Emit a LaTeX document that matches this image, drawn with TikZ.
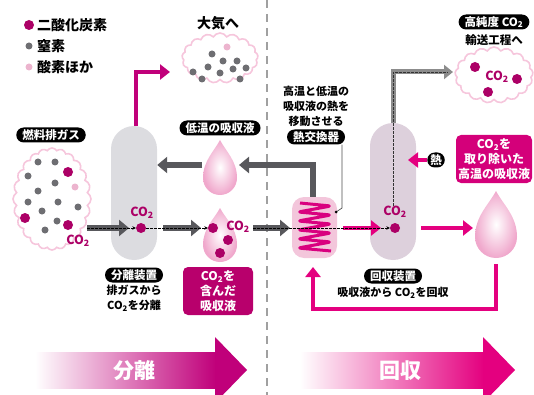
\documentclass[tikz,border=0pt]{standalone}
\usepackage{fontspec}
\setmainfont{Noto Sans CJK JP}
\usetikzlibrary{arrows.meta,shapes.symbols}

\definecolor{magdot}{HTML}{AC0066}
\definecolor{sepmag}{HTML}{C0007A}
\definecolor{pinkarr}{HTML}{E4007F}
\definecolor{boxrich}{HTML}{B8006C}
\definecolor{boxlean}{HTML}{D4007A}
\definecolor{ngray}{HTML}{6E6E72}
\definecolor{opink}{HTML}{ECB4CE}
\definecolor{cloudc}{HTML}{F6C6DC}
\definecolor{colgray}{HTML}{DCDCE0}
\definecolor{colmauve}{HTML}{DDD0DC}
\definecolor{darrow}{HTML}{58585C}
\definecolor{larrow}{HTML}{8C8C8C}
\definecolor{hxfill}{HTML}{F3C6DB}
\definecolor{coil}{HTML}{D9007F}
\definecolor{dropc}{HTML}{F0A8CC}
\definecolor{divc}{HTML}{A0A0A0}

\newcommand\dropr{17}
\newcommand\droptip{38}

\begin{document}
\begin{tikzpicture}[x=1pt,y=-1pt,
  pill/.style={fill=black, text=white, rounded corners=7.5pt, inner xsep=6pt, inner ysep=1pt,
    minimum height=15pt, font=\bfseries\fontsize{11.5}{12}\selectfont},
  magbox/.style={text=white, rounded corners=5pt, align=center, inner sep=2pt,
    font=\bfseries\fontsize{12}{14.8}\selectfont},
  legend/.style={anchor=west, inner sep=0, font=\bfseries\fontsize{14}{16}\selectfont},
  heading/.style={inner sep=0, font=\bfseries\fontsize{14}{16}\selectfont},
  note/.style={inner sep=0, align=center, font=\bfseries\fontsize{11}{15}\selectfont},
  co2t/.style={inner sep=0, text=magdot, font=\bfseries\fontsize{12.5}{14}\selectfont},
  bigw/.style={inner sep=0, text=white, font=\bfseries\fontsize{21}{24}\selectfont},
  dotC/.style={circle, fill=magdot, inner sep=0, minimum size=10pt},
  dotN/.style={circle, fill=ngray, inner sep=0, minimum size=7pt},
  dotO/.style={circle, fill=opink, inner sep=0, minimum size=7pt},
  puff/.style={cloud, cloud puffs=17, cloud puff arc=120, cloud ignores aspect,
    draw=cloudc, line width=1.6pt, fill=white, inner sep=0},
  tower/.style={inner sep=0, minimum width=46pt, rounded corners=23pt},
  garrow/.style={draw=darrow, line width=6pt, -{Triangle[length=10pt,width=16pt]}},
  lgarrow/.style={draw=larrow, line width=5pt, -{Triangle[length=9pt,width=14pt]}},
  parrow/.style={draw=pinkarr, line width=4.5pt, -{Triangle[length=10pt,width=15pt]}},
  sarrow/.style={draw=sepmag, line width=4.5pt, -{Triangle[length=10pt,width=15pt]}},
  dsh/.style={draw=black, line width=0.7pt, dash pattern=on 2.5pt off 1.5pt,
    -{Stealth[length=3.5pt,width=3.5pt]}},
  dshplain/.style={draw=black!80, line width=0.7pt, dash pattern=on 2.5pt off 1.5pt},
  leader/.style={draw=black!70, line width=0.7pt},
  divider/.style={draw=divc, line width=2.2pt, dash pattern=on 8pt off 6pt},
  drop/.pic={\shade[inner color=white, outer color=dropc]
      (0,-\droptip) .. controls (0.35*\dropr,-0.7*\droptip) and (\dropr,-0.45*\droptip) .. (\dropr,0)
      arc[start angle=0, end angle=180, radius=\dropr]
      .. controls (-\dropr,-0.45*\droptip) and (-0.35*\dropr,-0.7*\droptip) .. (0,-\droptip) -- cycle;}
]
\clip (0,0) rectangle (534,395);
\useasboundingbox (0,0) rectangle (534,395);

% --- dividing line between the two stages
\coordinate (divtop) at (267,0);
\coordinate (divbot) at (267,395);
\draw[divider] (divtop) -- (divbot);

% --- legend
\node[dotC, minimum size=10pt] (lgC) at (29,25) {};
\node[legend] (lgCt) at (37,25) {二酸化炭素};
\node[dotN] (lgN) at (29,46) {};
\node[legend] (lgNt) at (37,46) {窒素};
\node[dotO] (lgO) at (29,67) {};
\node[legend] (lgOt) at (37,67) {酸素ほか};

% --- flue gas cloud
\node[pill] (lbl-fuel) at (51,135) {燃料排ガス};
\node[puff, cloud puffs=24, minimum width=78pt, minimum height=102pt] (fuel) at (52,199) {};
\foreach \x/\y in {38/162,55/162,28/176,55/183,38/191,28/202,58/202,78/207,42/211,57/221,45/230}
  \node[dotN] at (\x,\y) {};
\node[dotO] at (75,187) {};
\foreach \x/\y in {68/172,25/218,68/225}
  \node[dotC] at (\x,\y) {};
\node[co2t] (c-fuel) at (78,241) {CO\textsubscript{2}};

% --- separation tower
\node[tower, fill=colgray, minimum height=134pt] (sep) at (134,193) {};
\node[co2t] (c-sep) at (142,213) {CO\textsubscript{2}};
\node[dotC] (d-sep) at (141,228) {};
\node[pill] (lbl-sep) at (134,275) {分離装置};
\node[note] (t-sep) at (134,298.5) {排ガスから\\CO\textsubscript{2}を分離};

% --- gas released to the air
\node[heading] (t-air) at (218,23) {大気へ};
\node[puff, minimum width=76pt, minimum height=50pt] (air) at (220,58) {};
\foreach \x/\y in {212/54,223/61,237/61,208/67,233/69,246/68,193/72,220/73,202/79,240/79}
  \node[dotN] at (\x,\y) {};
\node[dotO] at (227,47) {};
\coordinate (sepbend) at (136,72);
\coordinate (airin) at (170,72);
\draw[sarrow] (sep.north -| sepbend) -- (sepbend) -- (airin);

% --- cold absorbent
\node[pill] (lbl-low) at (220,128) {低温の吸収液};
\renewcommand\dropr{17}\renewcommand\droptip{38}
\pic at (220,178) {drop};
\coordinate (lowR) at (239,165);
\coordinate (lowL) at (202,165);

% --- CO2-rich absorbent
\renewcommand\dropr{17}\renewcommand\droptip{37}
\pic at (220,245) {drop};
\node[dotC] (d-rich) at (213,228) {};
\node[dotC] at (228,240) {};
\node[dotC] at (220,253) {};
\node[co2t] (c-rich) at (238,227) {CO\textsubscript{2}};
\node[magbox, fill=boxrich, minimum width=70pt, minimum height=48pt] (box-rich) at (218,291) {CO\textsubscript{2}を\\含んだ\\吸収液};

% --- heat exchanger
\node[note] (t-hx) at (316,106) {高温と低温の\\吸収液の熱を\\移動させる};
\node[pill] (lbl-hx) at (316,137) {熱交換器};
\node[inner sep=0, minimum width=45pt, minimum height=61pt, rounded corners=12pt, fill=hxfill] (hx) at (314.5,227.5) {};
\draw[coil, line width=3pt, line join=round, rounded corners=3pt]
  (300,203) -- (331,206) -- (298,212) -- (331,215) -- (298,221) -- (331,224)
  -- (298,230) -- (331,233) -- (298,239) -- (331,242) -- (298,248) -- (331,251);
\coordinate (hxpin) at (336,212);
\coordinate (hxbend) at (342,208);
\draw[leader] (lbl-hx.south -| hxbend) -- (hxbend) -- (hxpin);
\fill[black] (hxpin) circle[radius=1.5];

% --- recovery tower
\node[tower, fill=colmauve, minimum height=137pt] (rec) at (393,191.5) {};
\node[co2t] (c-rec) at (395,212) {CO\textsubscript{2}};
\node[dotC] (d-rec) at (395,228) {};
\node[pill] (lbl-rec) at (393,276) {回収装置};
\node[note] (t-rec) at (393,293) {吸収液から CO\textsubscript{2}を回収};
\node[pill, inner xsep=3pt] (lbl-heat) at (436,160) {熱};
\coordinate (heatin) at (408,160);
\draw[parrow] (lbl-heat.west) -- (heatin);

% --- high-purity CO2
\node[pill] (lbl-pure) at (494,22) {高純度 CO\textsubscript{2}};
\node[note, font=\bfseries\fontsize{11.5}{14}\selectfont] (t-trans) at (494,40) {輸送工程へ};
\node[puff, minimum width=78pt, minimum height=56pt] (pure) at (494,75) {};
\foreach \x/\y in {475/67,517/79,488/92}
  \node[dotC] at (\x,\y) {};
\node[co2t] (c-pure) at (497,77) {CO\textsubscript{2}};
\coordinate (upbend) at (393,72);
\coordinate (purein) at (453,72);
\draw[lgarrow] (rec.north -| upbend) -- (upbend) -- (purein);
\draw[dshplain] (c-rec.north -| upbend) -- (upbend) -- (448,72);

% --- hot, lean absorbent
\node[magbox, fill=boxlean, minimum width=76pt, minimum height=48pt] (box-lean) at (494,159) {CO\textsubscript{2}を\\取り除いた\\高温の吸収液};
\renewcommand\dropr{21}\renewcommand\droptip{46}
\pic at (496,237) {drop};
\coordinate (leanin) at (473,228);
\coordinate (leanout) at (496,264);
\coordinate (retR) at (496,309);
\coordinate (retL) at (313,309);
\coordinate (hxin) at (313,267);

% --- main gas/liquid flow row
\coordinate (r0) at (87,228);
\coordinate (r1) at (129,228);
\coordinate (r2) at (163,228);
\coordinate (r3) at (201,228);
\coordinate (r4) at (253,228);
\coordinate (r5) at (290,228);
\coordinate (r6) at (343,228);
\coordinate (r7) at (381,228);
\coordinate (r8) at (421,228);
\draw[garrow] (r0) -- (r1);
\draw[garrow] (r2) -- (r3);
\draw[garrow] (r4) -- (r5);
\draw[parrow] (r6) -- (r7);
\draw[parrow] (r8) -- (leanin);
\draw[dsh] (r0) -- (d-sep);
\draw[dsh] (d-sep) -- (d-rich);
\draw[dsh] (r4) -- (d-rec);

% --- absorbent return loops
\coordinate (hxtop) at (313,165);
\draw[garrow] (hx.north -| hxtop) -- (hxtop) -- (lowR);
\draw[garrow] (lowL) -- (sep.east |- lowL);
\draw[parrow] (leanout) -- (retR) -- (retL) -- (hxin);

% --- stage arrows
\shade[left color=white, right color=sepmag] (35,352) rectangle (216,388);
\fill[sepmag] (215,337) -- (247,370) -- (215,403) -- cycle;
\node[bigw] (ph-sep) at (134,371) {分離};
\shade[left color=white, right color=pinkarr] (300,352) rectangle (484,388);
\fill[pinkarr] (483,337) -- (515,370) -- (483,403) -- cycle;
\node[bigw] (ph-rec) at (400,371) {回収};
\end{tikzpicture}
\end{document}
